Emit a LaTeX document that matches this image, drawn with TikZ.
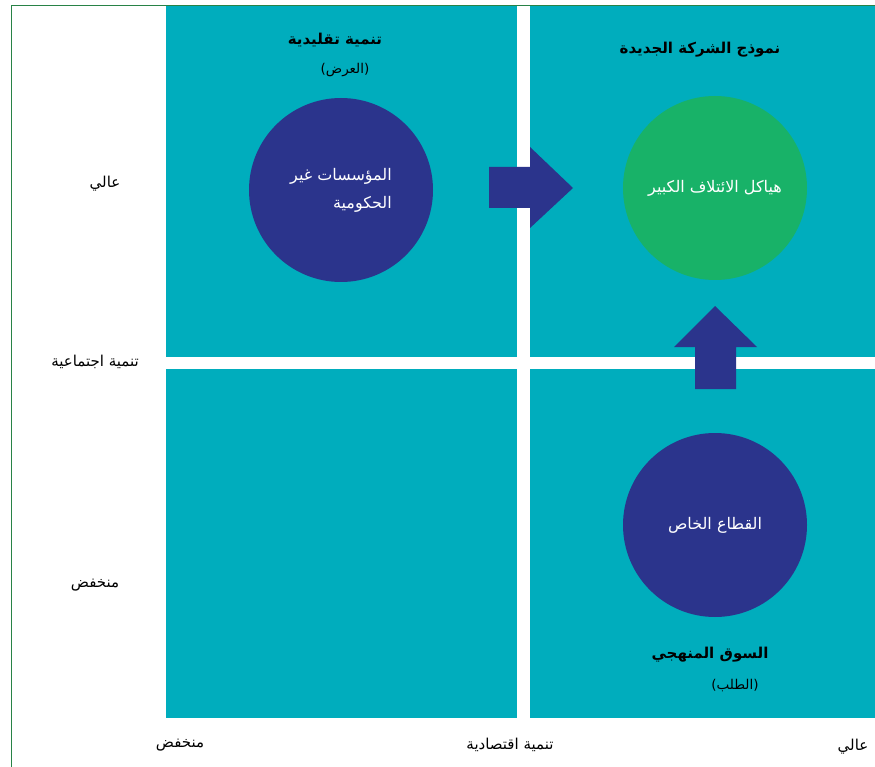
\documentclass[tikz,border=0pt]{standalone}
\usepackage{fontspec}
\newfontfamily\arabicfont[Script=Arabic]{DejaVu Sans}
\TeXXeTstate=1
\definecolor{tealq}{RGB}{0,173,189}
\definecolor{navyc}{RGB}{43,52,140}
\definecolor{greenc}{RGB}{24,178,104}
\definecolor{framec}{RGB}{40,130,70}
\tikzset{
  circ/.style={circle, minimum size=184pt, inner sep=0pt, text=white, align=right, font=\arabicfont\fontsize{16}{28}\selectfont},
  ttl/.style={font=\arabicfont\bfseries\fontsize{15}{18}\selectfont, inner sep=1pt},
  sub/.style={font=\arabicfont\fontsize{13.5}{16}\selectfont, inner sep=1pt},
  axl/.style={font=\arabicfont\fontsize{15}{18}\selectfont, inner sep=1pt},
  blockarrow/.style={fill=navyc}
}
\begin{document}
\begin{tikzpicture}[x=1pt,y=-1pt]
\useasboundingbox (0,0) rectangle (875,767);
\fill[white] (0,0) rectangle (875,767);
\draw[framec, line width=1pt] (11,6) rectangle (890,790);
% quadrants
\fill[tealq] (166,6) rectangle (517,357);
\fill[tealq] (530,6) rectangle (875,357);
\fill[tealq] (166,369) rectangle (517,718);
\fill[tealq] (530,369) rectangle (875,718);
% circles
\node[circ, fill=navyc] (ngo) at (341,190) {\beginR المؤسسات غير\endR\\\beginR الحكومية\endR};
\node[circ, fill=greenc] (coal) at (715,188) {\beginR هياكل الائتلاف الكبير\endR};
\node[circ, fill=navyc] (priv) at (715,525) {\beginR القطاع الخاص\endR};
% block arrows
\fill[blockarrow] (489,167) -- (530,167) -- (530,147) -- (573,188) -- (530,228) -- (530,208) -- (489,208) -- cycle;
\fill[blockarrow] (695,389) -- (695,347) -- (674,347) -- (715,306) -- (757,347) -- (736,347) -- (736,389) -- cycle;
% titles
\node[ttl] (t1) at (335,40) {\beginR تنمية تقليدية\endR};
\node[sub] (t1s) at (345,70) {\beginR (العرض)\endR};
\node[ttl] (t2) at (700,50) {\beginR نموذج الشركة الجديدة\endR};
\node[ttl] (t3) at (710,655) {\beginR السوق المنهجي\endR};
\node[sub] (t3s) at (735,686) {\beginR (الطلب)\endR};
% axis labels
\node[axl] (yh) at (105,184) {\beginR عالي\endR};
\node[axl] (ym) at (95,362) {\beginR تنمية اجتماعية\endR};
\node[axl] (yl) at (95,585) {\beginR منخفض\endR};
\node[axl] (xl) at (180,745) {\beginR منخفض\endR};
\node[axl] (xm) at (510,745) {\beginR تنمية اقتصادية\endR};
\node[axl] (xh) at (853,747) {\beginR عالي\endR};
\end{tikzpicture}
\end{document}
